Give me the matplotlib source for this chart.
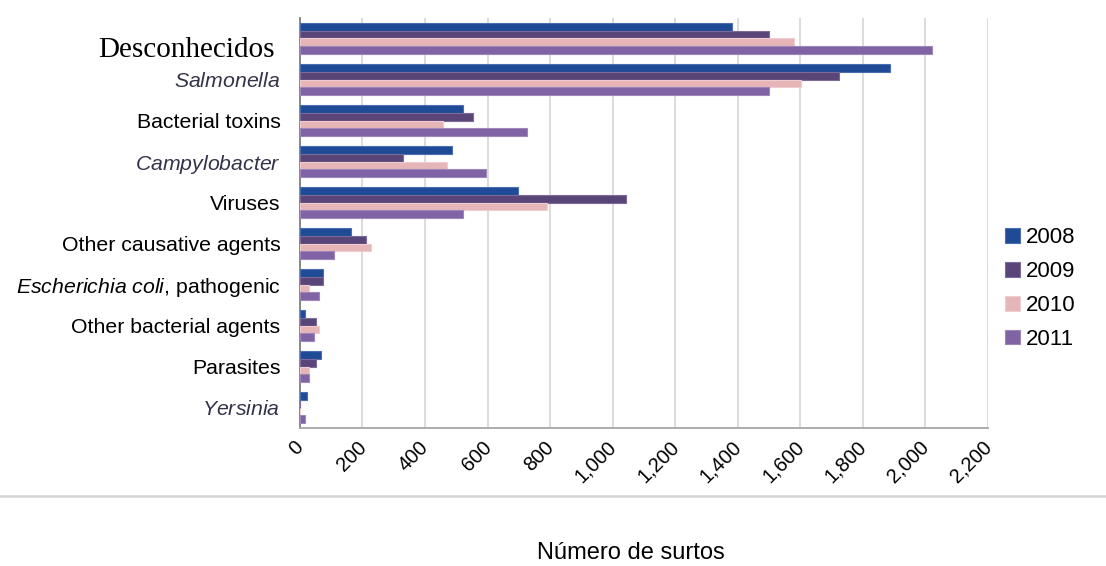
import matplotlib.pyplot as plt
import numpy as np
from matplotlib.lines import Line2D
import matplotlib.transforms as mtransforms

plt.rcParams['font.family'] = ['Liberation Sans', 'DejaVu Sans']
plt.rcParams['mathtext.fontset'] = 'custom'
plt.rcParams['mathtext.rm'] = 'Liberation Sans'
plt.rcParams['mathtext.it'] = 'Liberation Sans:italic'

# Surtos por agente causador, 2008-2011
agentes = ["Desconhecidos", "Salmonella", "Bacterial toxins", "Campylobacter",
           "Viruses", "Other causative agents", "Escherichia coli, pathogenic",
           "Other bacterial agents", "Parasites", "Yersinia"]
anos = ["2008", "2009", "2010", "2011"]
v2008 = [1380, 1888, 521, 486, 697, 164, 74, 16, 67, 23]
v2009 = [1500, 1723, 554, 331, 1041, 210, 74, 51, 51, 0]
v2010 = [1580, 1601, 457, 469, 790, 227, 29, 61, 29, 0]
v2011 = [2022, 1499, 727, 596, 521, 108, 61, 45, 29, 17]
cores = ["#1f4a96", "#5a4579", "#e6b5b8", "#8063a5"]
bordas = ["#4a6fb0", "#7c6a98", "#efcccf", "#9c86ba"]

fig = plt.figure(figsize=(11.06, 5.66), dpi=100)
ax = fig.add_axes([0.2712, 0.2438, 0.6221, 0.7244])

y = np.arange(len(agentes))
h = 0.19
for i, (vals, c, b, ano) in enumerate(zip([v2008, v2009, v2010, v2011], cores, bordas, anos)):
    ax.barh(y + (i - 1.5) * h, vals, height=h, color=c, edgecolor=b,
            linewidth=0.8, label=ano, zorder=3)

ax.set_ylim(len(agentes) - 0.5, -0.5)
ax.set_xlim(0, 2200)
ax.set_xticks(np.arange(0, 2201, 200))
ax.set_xticklabels([f"{v:,}" for v in range(0, 2201, 200)], rotation=45,
                   ha='right', rotation_mode='anchor', fontsize=14.5)
ax.tick_params(axis='x', length=0, pad=9)
ax.tick_params(axis='y', length=0, pad=14)
# desloca os rótulos inclinados para a esquerda
desloc = mtransforms.ScaledTranslation(-6 / 100, 3 / 100, fig.dpi_scale_trans)
for lbl in ax.get_xticklabels():
    lbl.set_transform(lbl.get_transform() + desloc)

ax.set_yticks(y)
rotulos = ["", r"$\it{Salmonella}$", "Bacterial toxins",
           r"$\it{Campylobacter}$", "Viruses", "Other causative agents",
           r"$\it{Escherichia\ coli{,}}$ pathogenic", "Other bacterial agents",
           "Parasites", r"$\it{Yersinia}$"]
ax.set_yticklabels(rotulos, fontsize=15.3)
for lbl, nome in zip(ax.get_yticklabels(), agentes):
    if nome in ("Salmonella", "Campylobacter", "Yersinia"):
        lbl.set_color("#33334a")

# primeiro rótulo em fonte serifada, um pouco abaixo do grupo
trans = mtransforms.blended_transform_factory(ax.transAxes, ax.transData)
ax.text(-0.036, 0.27, agentes[0], transform=trans, ha='right', va='center',
        fontsize=21, family=['Liberation Serif', 'DejaVu Serif'])

ax.grid(axis='x', color='#d9d9d9', linewidth=1.3, zorder=0)
for s in ['top', 'right']:
    ax.spines[s].set_visible(False)
ax.spines['left'].set_color('#7f7f7f')
ax.spines['left'].set_linewidth(1.3)
ax.spines['bottom'].set_color('#a6a6a6')
ax.spines['bottom'].set_linewidth(1.3)

fig.legend(loc='upper left', bbox_to_anchor=(0.891, 0.634), frameon=False,
           fontsize=16, handlelength=0.65, handleheight=0.65,
           handletextpad=0.25, labelspacing=0.58)

# linha separadora e título do eixo
fig.add_artist(Line2D([0, 1], [0.1237, 0.1237], transform=fig.transFigure,
                      color='#d4d4d4', linewidth=1.8))
fig.text(0.5705, 0.0230, "Número de surtos", ha='center', va='center', fontsize=17)

fig.savefig("out.png", dpi=100)
